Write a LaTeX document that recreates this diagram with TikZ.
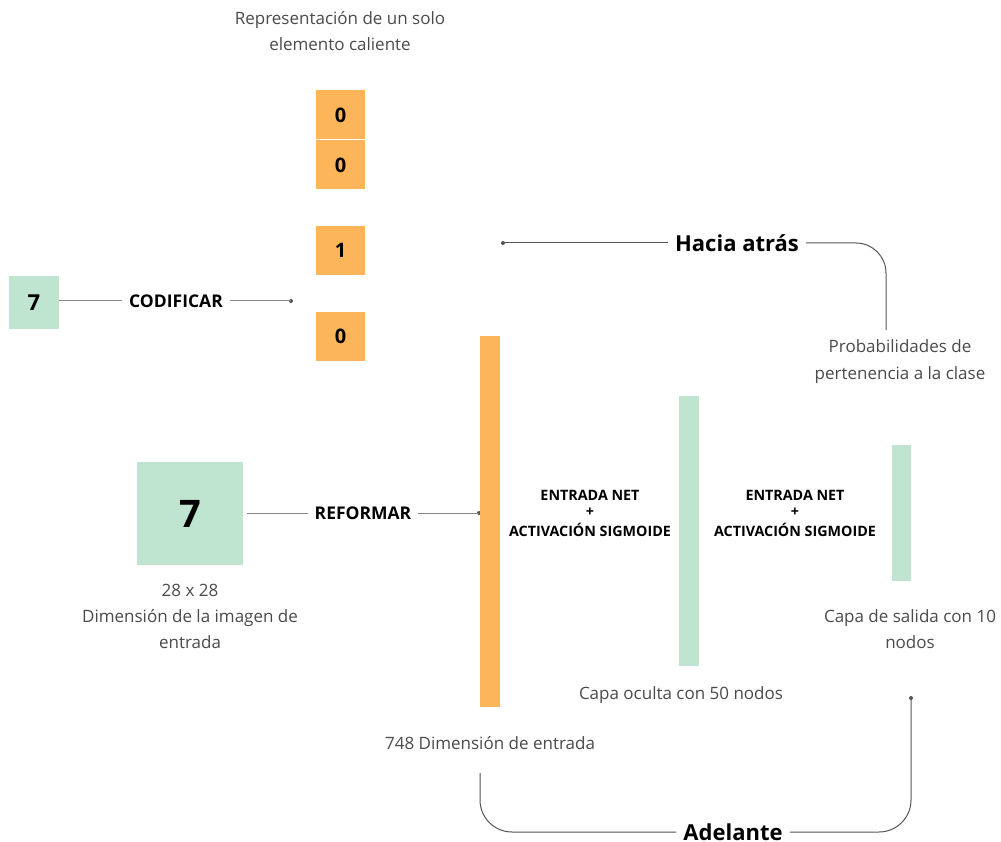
\documentclass[tikz,border=0pt]{standalone}
\usepackage{fontspec}
\setmainfont{Open Sans}
\definecolor{orng}{HTML}{FDB55A}
\definecolor{grn}{HTML}{BFE4CF}
\definecolor{txt}{HTML}{4A4A4A}
\definecolor{ln}{HTML}{555555}
\tikzset{
  obox/.style={fill=orng, draw=none, minimum width=49pt, minimum height=49pt, inner sep=0pt, font=\fontsize{20}{20}\selectfont\bfseries},
  lbl/.style={text=txt, font=\fontsize{17}{26.2}\selectfont, align=center, inner sep=0pt},
  bold/.style={font=\fontsize{17.5}{18}\selectfont\bfseries, text=black, inner sep=7pt},
  big/.style={font=\fontsize{22}{22}\selectfont\bfseries, text=black, inner sep=7pt},
  small/.style={font=\fontsize{14.3}{18}\selectfont\bfseries, text=black, align=center, inner sep=0pt},
  conn/.style={draw=ln, line width=1pt},
  dot/.style={circle, fill=ln, inner sep=0pt, minimum size=4pt},
}
\begin{document}
\begin{tikzpicture}[x=1pt, y=-1pt]
\useasboundingbox (0,0) rectangle (1001,842);
% title
\node[lbl] (title) at (340,31) {Representación de un solo\\elemento caliente};
% one-hot boxes
\node[obox] (b0) at (340.5,115) {0};
\node[obox] (b1) at (340.5,165) {0};
\node[obox] (b2) at (340.5,250.5) {1};
\node[obox] (b3) at (340.5,336.5) {0};
% small 7
\node[fill=grn, minimum width=50pt, minimum height=53pt, inner sep=0pt, font=\fontsize{22}{22}\selectfont\bfseries] (g7) at (34,302.5) {7};
\node[bold] (cod) at (176,301) {CODIFICAR};
\node[dot] (coddot) at (291,301) {};
\draw[conn, draw=ln!70] (g7.east |- cod) -- (cod.west);
\draw[conn, draw=ln!70] (cod.east) -- (coddot.center);
% big 7
\node[fill=grn, minimum width=106pt, minimum height=103pt, inner sep=0pt, font=\fontsize{38}{38}\selectfont\bfseries] (G7) at (190,513.5) {7};
\node[lbl] (dimimg) at (190,616.5) {28 x 28\\Dimensión de la imagen de\\entrada};
\node[bold] (ref) at (363,513) {REFORMAR};
\node[dot] (refdot) at (479,513) {};
\draw[conn, draw=ln!70] (G7.east |- ref) ++(4,0) -- (ref.west);
\draw[conn, draw=ln!70] (ref.east) -- (refdot.center);
% layers
\node[fill=orng, minimum width=20pt, minimum height=371pt, inner sep=0pt] (inl) at (490,521.5) {};
\node[fill=grn, minimum width=20pt, minimum height=270pt, inner sep=0pt] (hid) at (689,531) {};
\node[fill=grn, minimum width=19pt, minimum height=136pt, inner sep=0pt] (outl) at (901.5,513) {};
\node[small] (t1) at (590,513.5) {ENTRADA NET\\[-2pt]+\\[2pt]ACTIVACIÓN SIGMOIDE};
\node[small] (t2) at (795,513.5) {ENTRADA NET\\[-2pt]+\\[2pt]ACTIVACIÓN SIGMOIDE};
\node[lbl] (capsal) at (910,629) {Capa de salida con 10\\nodos};
\node[lbl] (capoc) at (681,695) {Capa oculta con 50 nodos};
\node[lbl] (in748) at (490,743) {748 Dimensión de entrada};
\node[lbl] (prob) at (900,361.5) {Probabilidades de\\pertenencia a la clase};
% Hacia atras
\node[big] (hacia) at (737,243) {Hacia atrás};
\node[dot] (hdot) at (503,243) {};
\coordinate (pend) at (886,330);
\draw[conn] (hacia.west) -- (hdot.center);
\draw[conn, rounded corners=30pt] (hacia.east) -| (pend);
% Adelante
\node[big] (adel) at (733,832) {Adelante};
\coordinate (astart) at (480,773);
\node[dot] (adot) at (911,698) {};
\draw[conn, rounded corners=32pt] (astart) |- (adel.west);
\draw[conn, rounded corners=32pt] (adel.east) -| (adot.center);
\end{tikzpicture}
\end{document}
